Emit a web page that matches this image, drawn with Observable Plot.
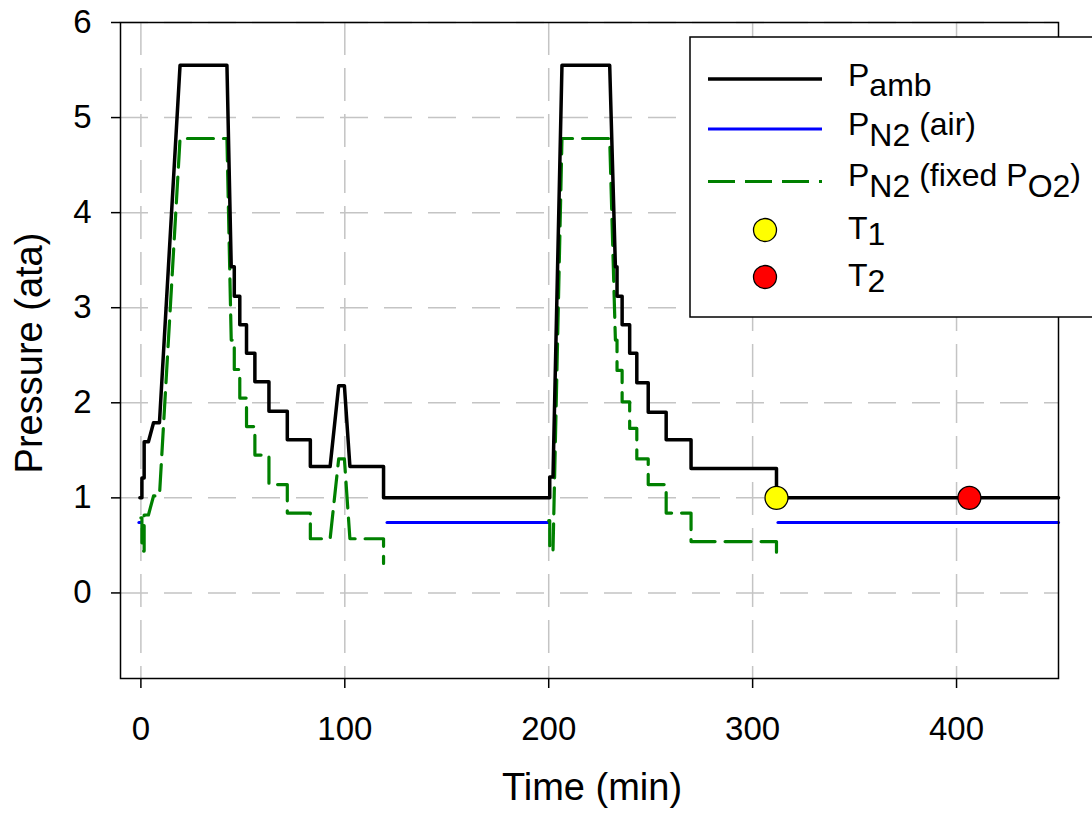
<!DOCTYPE html>
<html><head><meta charset="utf-8">
<script src="https://cdn.jsdelivr.net/npm/d3@7"></script>
<script src="https://cdn.jsdelivr.net/npm/@observablehq/plot@0.6"></script>
<style>html,body{margin:0;padding:0;background:#fff;overflow:hidden}</style>
</head><body><div id="chart"></div>
<script>
// ---- data ----
const xTicks = [0, 100, 200, 300, 400];
const yTicks = [0, 1, 2, 3, 4, 5, 6];

// Ambient pressure (ata) vs time (min)
const pambT = [-0.5, 0.5, 0.5, 1.6, 1.6, 3.7, 6.2, 9.1, 19.2, 42.2, 44.3, 45.8, 45.8, 48.5, 48.5, 51.8, 51.8, 55.9, 55.9, 62.8, 62.8, 71.8, 71.8, 83.1, 83.1, 92.8, 97.0, 99.8, 102.5, 119.0, 119.0, 200.0, 200.5, 200.5, 202.1, 206.5, 229.9, 232.7, 233.5, 233.5, 236.0, 236.0, 239.7, 239.7, 243.2, 243.2, 248.8, 248.8, 257.6, 257.6, 269.8, 269.8, 311.7, 311.7, 450];
const pambP = [1.0, 1.0, 1.21, 1.21, 1.59, 1.59, 1.79, 1.79, 5.55, 5.55, 3.43, 3.43, 3.12, 3.12, 2.82, 2.82, 2.52, 2.52, 2.22, 2.22, 1.91, 1.91, 1.61, 1.61, 1.33, 1.33, 2.18, 2.18, 1.33, 1.33, 1.0, 1.0, 1.0, 1.22, 1.22, 5.55, 5.55, 3.43, 3.43, 3.12, 3.12, 2.82, 2.82, 2.52, 2.52, 2.21, 2.21, 1.90, 1.90, 1.61, 1.61, 1.31, 1.31, 1.0, 1.0];

// PN2 breathing air (surface intervals)
const airT = [-1, 0, 120.7, 200, 312.4, 450];
const airP = [0.74, 0.74, 0.74, 0.74, 0.74, 0.74];
const airSeg = [1, 1, 2, 2, 3, 3];

// PN2 with fixed PO2 (two dives)
const fixedT = [0, 0.5, 0.5, 1.6, 1.6, 3.7, 6.2, 9.1, 19.2, 42.2, 44.3, 45.8, 45.8, 48.5, 48.5, 51.8, 51.8, 55.9, 55.9, 62.8, 62.8, 71.8, 71.8, 83.1, 83.1, 92.8, 97.0, 99.8, 102.5, 119.0, 119.0,
                200.0, 200.5, 200.5, 202.1, 206.5, 229.9, 232.7, 233.5, 233.5, 236.0, 236.0, 239.7, 239.7, 243.2, 243.2, 248.8, 248.8, 257.6, 257.6, 269.8, 269.8, 311.7, 311.7];
const fixedP = [0.79, 0.79, 0.44, 0.44, 0.82, 0.82, 1.02, 1.02, 4.78, 4.78, 2.66, 2.66, 2.35, 2.35, 2.05, 2.05, 1.75, 1.75, 1.45, 1.45, 1.14, 1.14, 0.84, 0.84, 0.57, 0.57, 1.41, 1.41, 0.57, 0.57, 0.31,
                0.76, 0.76, 0.44, 0.44, 4.78, 4.78, 2.66, 2.66, 2.34, 2.34, 2.01, 2.01, 1.73, 1.73, 1.41, 1.41, 1.14, 1.14, 0.84, 0.84, 0.54, 0.54, 0.33];
const fixedSeg = [1,1,1,1,1,1,1,1,1,1,1,1,1,1,1,1,1,1,1,1,1,1,1,1,1,1,1,1,1,1,1,
                  2,2,2,2,2,2,2,2,2,2,2,2,2,2,2,2,2,2,2,2,2,2,2];

// Marked times
const t1 = [{t: 311.7, p: 1.0}];
const t2 = [{t: 406.3, p: 1.0}];

// ---- build tables ----
const ambData = pambT.map((t, i) => ({t, p: pambP[i]}));
const airData = airT.map((t, i) => ({t, p: airP[i], seg: airSeg[i]}));
const fixedData = fixedT.map((t, i) => ({t, p: fixedP[i], seg: fixedSeg[i]}));

const FONT = "'Liberation Sans', Arial, Helvetica, sans-serif";
const gridStyle = {stroke: "#c4c4c4", strokeOpacity: 1, strokeWidth: 1.5};

const chart = Plot.plot({
  width: 1092, height: 816,
  marginLeft: 120, marginRight: 34, marginTop: 22, marginBottom: 138,
  style: {fontFamily: FONT, background: "#fff", color: "#000", overflow: "visible"},
  x: {domain: [-10, 450]},
  y: {domain: [-0.9, 6]},
  marks: [
    Plot.gridX(xTicks, {...gridStyle, strokeDasharray: "33,13"}),
    Plot.gridY(yTicks, {...gridStyle, strokeDasharray: "28,16"}),
    Plot.line(airData, {x: "t", y: "p", z: "seg", stroke: "#0000ff", strokeWidth: 3}),
    Plot.line(fixedData, {x: "t", y: "p", z: "seg", stroke: "#008000", strokeWidth: 3.2, strokeDasharray: "26,10"}),
    Plot.line(ambData, {x: "t", y: "p", stroke: "#000", strokeWidth: 3.5}),
    Plot.frame({stroke: "#000", strokeWidth: 1.5}),
    Plot.dot(t1, {x: "t", y: "p", r: 11.5, fill: "#ffff00", stroke: "#000", strokeWidth: 1.3}),
    Plot.dot(t2, {x: "t", y: "p", r: 11.5, fill: "#ff0000", stroke: "#000", strokeWidth: 1.3}),
    Plot.axisX(xTicks, {tickSize: 10, tickPadding: 28, fontSize: 33, label: null, strokeWidth: 1.5, tickFormat: d3.format("d")}),
    Plot.axisY(yTicks, {tickSize: 9, tickPadding: 20, fontSize: 33, label: null, strokeWidth: 1.5, tickFormat: d3.format("d")})
  ]
});
document.getElementById("chart").appendChild(chart);

// ---- axis titles and legend ----
const svg = d3.select(chart);
svg.append("text").attr("x", 592).attr("y", 800).attr("text-anchor", "middle")
  .attr("font-size", 38).attr("fill", "#000").attr("font-family", FONT).text("Time (min)");
svg.append("text").attr("transform", "translate(42,353) rotate(-90)").attr("text-anchor", "middle")
  .attr("font-size", 38).attr("fill", "#000").attr("font-family", FONT).text("Pressure (ata)");

const lg = svg.append("g").attr("font-family", FONT).attr("font-size", 32).attr("fill", "#000")
  .attr("text-anchor", "start");
lg.append("rect").attr("x", 690).attr("y", 37).attr("width", 480).attr("height", 280)
  .attr("fill", "#fff").attr("stroke", "#000").attr("stroke-width", 1.5);

lg.append("line").attr("x1", 708).attr("x2", 822).attr("y1", 79).attr("y2", 79)
  .attr("stroke", "#000").attr("stroke-width", 3.5);
lg.append("line").attr("x1", 708).attr("x2", 822).attr("y1", 129).attr("y2", 129)
  .attr("stroke", "#0000ff").attr("stroke-width", 3.2);
lg.append("line").attr("x1", 708).attr("x2", 822).attr("y1", 181.5).attr("y2", 181.5)
  .attr("stroke", "#008000").attr("stroke-width", 3.2).attr("stroke-dasharray", "27,10");
lg.append("circle").attr("cx", 765).attr("cy", 230).attr("r", 11.5)
  .attr("fill", "#ffff00").attr("stroke", "#000").attr("stroke-width", 1.3);
lg.append("circle").attr("cx", 765).attr("cy", 277).attr("r", 11.5)
  .attr("fill", "#ff0000").attr("stroke", "#000").attr("stroke-width", 1.3);

function label(y, parts) {
  const t = lg.append("text").attr("x", 848).attr("y", y).attr("text-anchor", "start");
  let shift = 0;
  parts.forEach(([s, sub]) => {
    const target = sub || 0;
    t.append("tspan").attr("dy", target - shift).text(s);
    shift = target;
  });
}
label(86, [["P"], ["amb", 10]]);
label(135, [["P"], ["N2", 11], [" (air)", 0]]);
label(186, [["P"], ["N2", 11], [" (fixed P", 0], ["O2", 11], [")", 0]]);
label(239, [["T"], ["1", 6]]);
label(286, [["T"], ["2", 6]]);
</script>
</body></html>
